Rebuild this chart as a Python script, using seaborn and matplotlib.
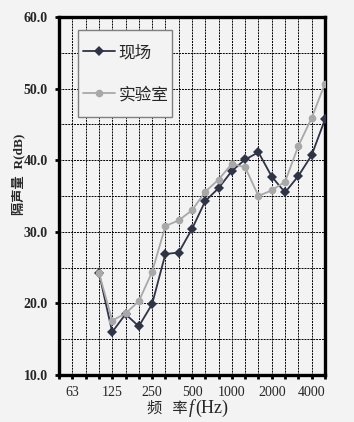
import pandas as pd
import matplotlib
matplotlib.use("Agg")
import matplotlib.pyplot as plt
import matplotlib.ticker as mticker
from matplotlib.patches import Rectangle
import seaborn as sns

# 1/3倍频程中心频率
bands = ['50', '63', '80', '100', '125', '160', '200', '250', '315', '400', '500',
         '630', '800', '1000', '1250', '1600', '2000', '2500', '3150', '4000', '5000']
octave_labels = ['63', '125', '250', '500', '1000', '2000', '4000']

# 隔声量数据 (从100Hz开始)
data_bands = ['100', '125', '160', '200', '250', '315', '400', '500', '630', '800',
              '1000', '1250', '1600', '2000', '2500', '3150', '4000', '5000']
field = [24.3, 16.0, 18.5, 16.8, 19.9, 26.9, 27.1, 30.4, 34.3, 36.1,
         38.5, 40.1, 41.1, 37.7, 35.5, 37.8, 40.7, 45.7]
lab = [24.3, 17.6, 18.6, 20.3, 24.4, 30.8, 31.6, 33.0, 35.6, 37.3,
       39.5, 39.0, 35.0, 35.8, 37.0, 42.0, 45.9, 50.7]

df = pd.DataFrame({
    'idx': [bands.index(b) for b in data_bands] * 2,
    'R': field + lab,
    'type': ['现场'] * len(field) + ['实验室'] * len(lab),
})

sns.set_theme(style="ticks")
plt.rcParams['font.family'] = ['Liberation Serif', 'Noto Sans CJK SC', 'DejaVu Sans']
plt.rcParams['axes.unicode_minus'] = False

bg = '#f3f3f3'
fig = plt.figure(figsize=(3.54, 4.22), dpi=100, facecolor=bg)
ax = fig.add_axes([0.1667, 0.1114, 0.7513, 0.8483], facecolor=bg)

palette = {'现场': '#2e3346', '实验室': '#a8a8a8'}
markers = {'现场': 'D', '实验室': 'o'}
sns.lineplot(data=df, x='idx', y='R', hue='type', style='type', palette=palette,
             markers=markers, dashes=False, markersize=5.5, linewidth=1.3,
             markeredgewidth=0, hue_order=['现场', '实验室'], ax=ax, zorder=3)

ax.set_xlim(0, len(bands) - 1)
ax.set_ylim(10, 60)
ax.set_xticks(range(len(bands)))
ax.set_xticklabels([b if b in octave_labels else '' for b in bands])
ax.yaxis.set_major_locator(mticker.MultipleLocator(10))
ax.yaxis.set_minor_locator(mticker.MultipleLocator(5))
ax.yaxis.set_major_formatter(mticker.FormatStrFormatter('%.1f'))

# 虚线网格
ax.set_axisbelow(True)
grid_kw = dict(color='black', linestyle=(0, (2, 1)), linewidth=0.7)
ax.xaxis.grid(True, which='major', **grid_kw)
ax.yaxis.grid(True, which='both', **grid_kw)
ax.tick_params(axis='both', which='major', direction='out', length=3, width=2, color='black')
ax.tick_params(axis='y', which='minor', length=0)
ax.tick_params(axis='x', labelsize=10, pad=5)
ax.tick_params(axis='y', labelsize=10, pad=5)
for lbl in ax.get_yticklabels():
    lbl.set_fontweight('bold')

for s in ax.spines.values():
    s.set_linewidth(2.4)
    s.set_color('black')

ax.set_xlabel('')
ax.set_ylabel('隔声量  R(dB)', fontsize=9.5, fontweight='bold')
ax.yaxis.set_label_coords(-0.125, 0.56)

# 横轴标题
fig.text(0.415, 0.033, '频   率', fontsize=11, family=['Noto Sans CJK SC'], va='center')
fig.text(0.532, 0.033, 'f', fontsize=13, style='italic', va='center')
fig.text(0.552, 0.033, '(Hz)', fontsize=13, va='center')

# 图例
ax.add_patch(Rectangle((0.071, 0.721), 0.354, 0.243, transform=ax.transAxes,
                       facecolor=bg, edgecolor='#7f7f7f', linewidth=1.0, zorder=4))
leg = ax.legend(loc='center left', bbox_to_anchor=(0.09, 0.842), fontsize=12,
                frameon=False, handlelength=1.9, labelspacing=1.5, borderpad=0,
                borderaxespad=0, handletextpad=0.25)
leg.set_zorder(5)
for t in leg.get_texts():
    t.set_family(['Noto Sans CJK SC'])

fig.savefig('out.png', dpi=100, facecolor=bg)
